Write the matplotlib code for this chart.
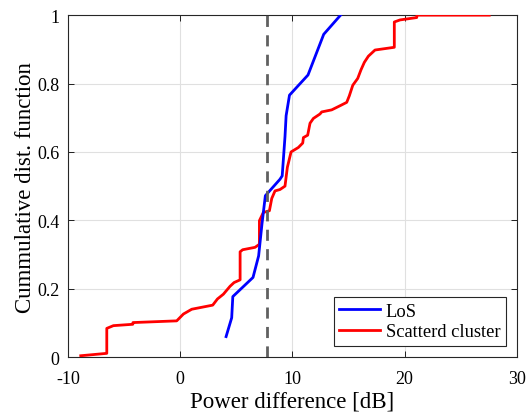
import numpy as np
import matplotlib
matplotlib.use('Agg')
import matplotlib.pyplot as plt

# LoS CDF
los_x = [4.1, 4.6, 4.7, 6.5, 7.0, 7.3, 7.6, 8.9, 9.1, 9.35, 9.45, 9.75, 11.4, 12.8, 14.3]
los_y = [0.06, 0.115, 0.177, 0.233, 0.296, 0.39, 0.472, 0.52, 0.53, 0.645, 0.706, 0.766, 0.825, 0.944, 1.0]

# Scattered cluster CDF
sc_x = [-8.85, -6.53, -6.53, -5.94, -4.21, -4.2, -0.3, 0.3, 1.04, 2.91, 3.33, 3.86, 4.45, 4.81,
        5.35, 5.35, 5.58, 6.68, 7.07, 7.07, 7.42, 7.96, 8.17, 8.46, 8.9, 9.35, 9.56, 9.89,
        10.54, 10.93, 10.99, 11.37, 11.58, 11.88, 12.47, 12.62, 13.51, 14.25, 14.85, 15.08,
        15.39, 15.83, 16.12, 16.42, 16.78, 17.37, 19.09, 19.09, 19.6, 21.09, 21.1, 27.55]
sc_y = [0.004, 0.011, 0.084, 0.092, 0.096, 0.101, 0.106, 0.126, 0.14, 0.152, 0.17, 0.184, 0.207, 0.218,
        0.226, 0.308, 0.314, 0.321, 0.33, 0.399, 0.423, 0.428, 0.464, 0.486, 0.49, 0.50, 0.555, 0.60,
        0.613, 0.626, 0.642, 0.649, 0.684, 0.698, 0.711, 0.717, 0.723, 0.735, 0.745, 0.764,
        0.795, 0.815, 0.84, 0.862, 0.88, 0.898, 0.906, 0.98, 0.986, 0.993, 1.0, 1.0]

threshold = 7.72

plt.rcParams['font.family'] = ['Liberation Serif', 'DejaVu Serif']
plt.rcParams['axes.unicode_minus'] = False

fig = plt.figure(figsize=(5.3, 4.14), dpi=100)
ax = fig.add_axes([0.128, 0.135, 0.847, 0.826])

ax.plot(los_x, los_y, color='#0000ff', linewidth=2, label='LoS', zorder=4)
ax.plot(sc_x, sc_y, color='#ff0000', linewidth=2, label='Scatterd cluster', zorder=3)
ax.axvline(threshold, color='#606060', linestyle=(0, (4, 3)), linewidth=2, zorder=5)

ax.set_xlim(-10, 30)
ax.set_ylim(0, 1)
ax.set_xticks([-10, 0, 10, 20, 30])
ax.set_yticks([0, 0.2, 0.4, 0.6, 0.8, 1])
ax.set_yticklabels(['0', '0.2', '0.4', '0.6', '0.8', '1'])
ax.tick_params(direction='in', top=True, right=True, labelsize=13, length=4, width=0.6)
ax.tick_params(axis='x', pad=9)
ax.tick_params(axis='y', pad=6)
ax.grid(True, color='#e0e0e0', linewidth=0.8)
ax.set_axisbelow(True)
for s in ax.spines.values():
    s.set_linewidth(0.8)
    s.set_color('#262626')

ax.set_xlabel('Power difference [dB]', fontsize=16.5, labelpad=3)
ax.set_ylabel('Cummulative dist. function', fontsize=16.5, labelpad=1)

leg = ax.legend(loc='lower right', fontsize=13.3, fancybox=False, edgecolor='#262626',
                framealpha=1, handlelength=2.2, borderpad=0.3, labelspacing=0.2,
                handletextpad=0.3, borderaxespad=0.6)
leg.get_frame().set_linewidth(0.8)

fig.savefig('out.png', dpi=100)
